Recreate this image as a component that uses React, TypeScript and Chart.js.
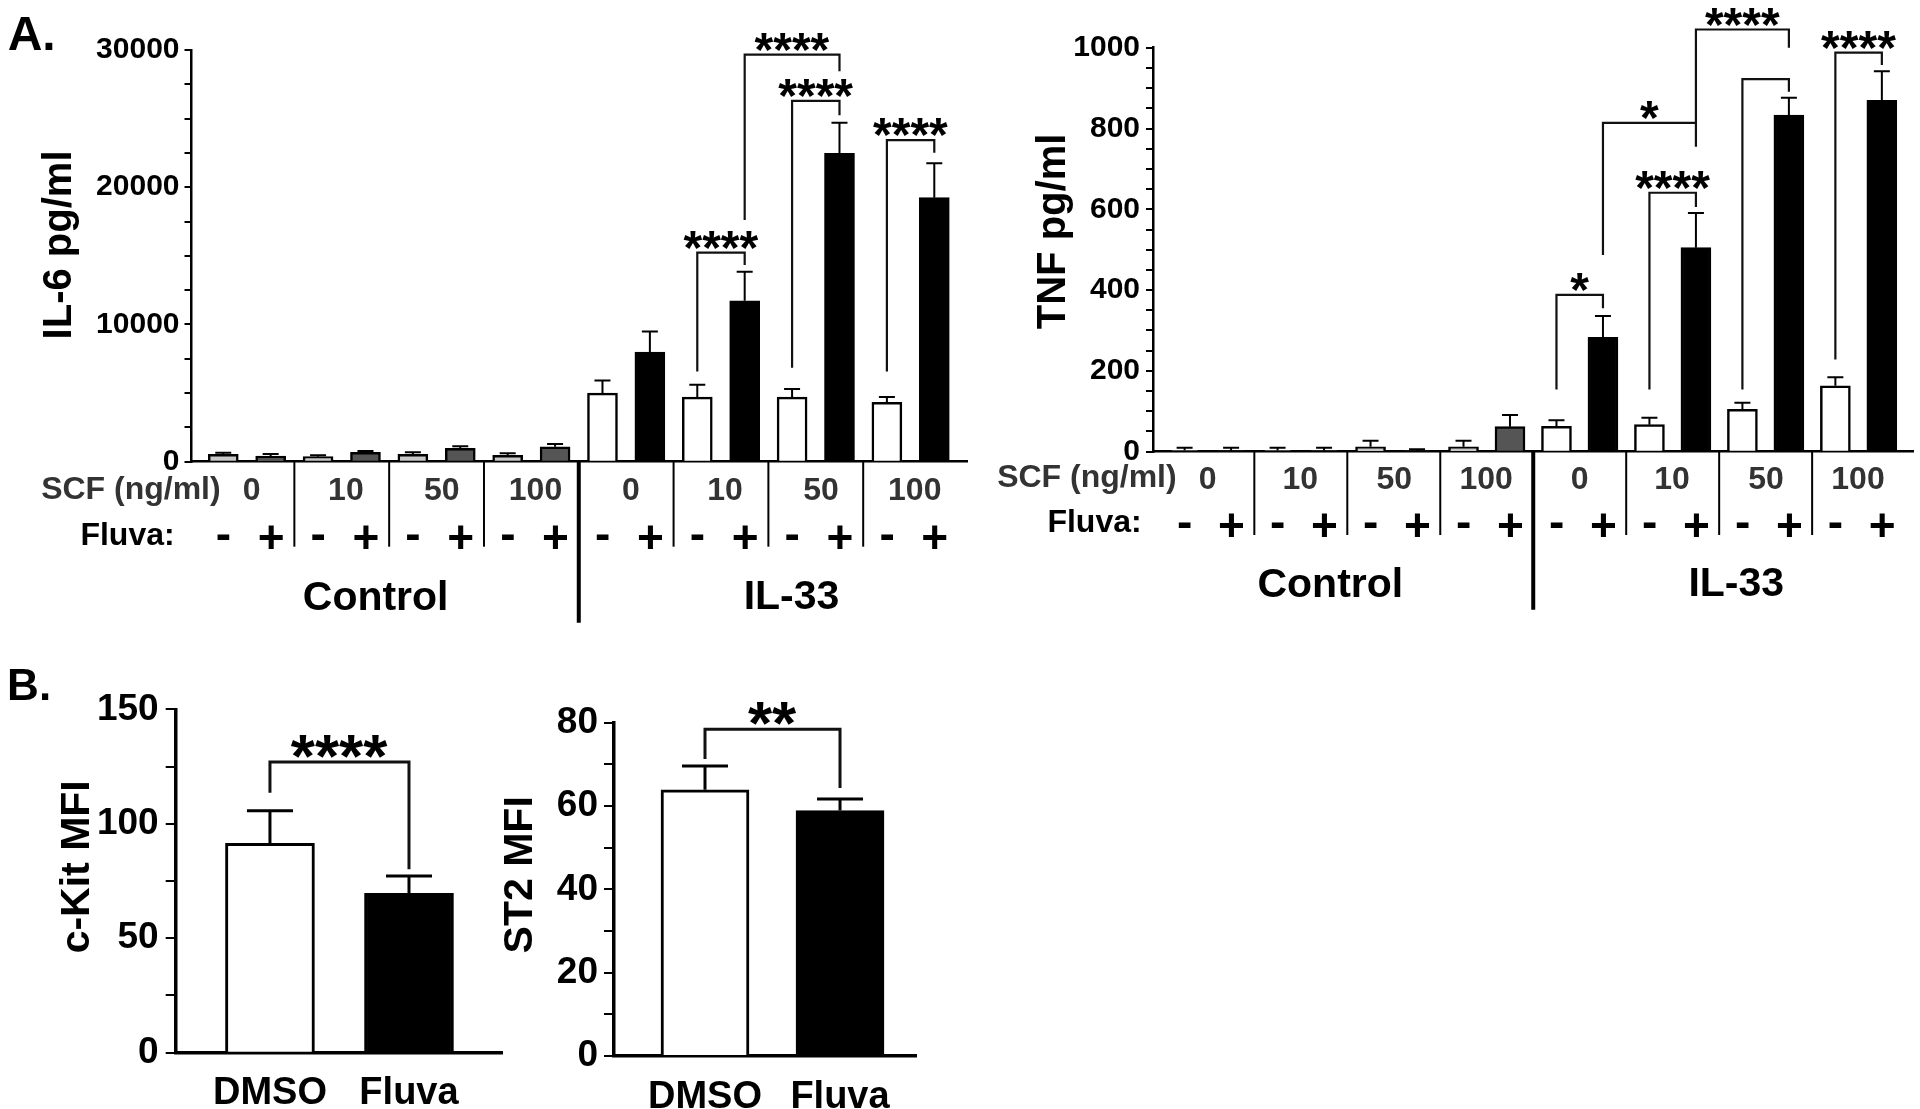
import React, { useEffect, useRef } from 'react';
import { Chart, registerables } from 'chart.js';

Chart.register(...registerables);

const FAMILY = "'Liberation Sans', Arial, Helvetica, sans-serif";
const bold = (px: number) => `bold ${px}px ${FAMILY}`;

// ---------------- data ----------------
const SCF_DOSES = ['0', '10', '50', '100'];
const FLUVA_SIGNS = ['-', '+'];
const TREATMENTS = ['Control', 'IL-33'];

// bar order: treatment (Control, IL-33) -> SCF dose (0,10,50,100) -> Fluva (-, +)
const IL6_MEAN = [540, 415, 365, 680, 540, 975, 465, 1090, 5000, 7980, 4710, 11720, 4710, 22470, 4320, 19240];
const IL6_SEM = [110, 145, 100, 100, 140, 145, 145, 200, 920, 1500, 890, 2130, 580, 2230, 390, 2500];
const IL6_TICKS = [0, 10000, 20000, 30000];

const TNF_MEAN = [3, 2, 3, 3, 12, 2, 12, 62, 63, 283, 67, 505, 105, 833, 163, 870];
const TNF_SEM = [7, 8, 7, 7, 15, 4, 15, 29, 15, 53, 17, 86, 16, 43, 21, 72];
const TNF_TICKS = [0, 200, 400, 600, 800, 1000];

const B_GROUPS = ['DMSO', 'Fluva'];
const CKIT_MEAN = [91.4, 69.6];
const CKIT_SEM = [14.3, 7.6];
const CKIT_TICKS = [0, 50, 100, 150];
const ST2_MEAN = [63.9, 58.9];
const ST2_SEM = [5.7, 2.8];
const ST2_TICKS = [0, 20, 40, 60, 80];

type Bracket = { a: number; b: number; y: number; ya: number; yb: number; label: string };
const IL6_BRACKETS: Bracket[] = [
  { a: 10, b: 11, y: 15230, ya: 6570, yb: 14340, label: '****' },
  { a: 12, b: 13, y: 26300, ya: 6840, yb: 25250, label: '****' },
  { a: 11, b: 13, y: 29670, ya: 17610, yb: 28460, label: '****' },
  { a: 14, b: 15, y: 23430, ya: 6570, yb: 22510, label: '****' },
];
const TNF_BRACKETS: Bracket[] = [
  { a: 8, b: 9, y: 388, ya: 154, yb: 355, label: '*' },
  { a: 10, b: 11, y: 641, ya: 154, yb: 606, label: '****' },
  { a: 9, b: 11, y: 814, ya: 487, yb: 755, label: '*' },
  { a: 11, b: 13, y: 1045, ya: 814, yb: 1000, label: '****' },
  { a: 12, b: 13, y: 922, ya: 154, yb: 891, label: '' },
  { a: 14, b: 15, y: 988, ya: 228, yb: 957, label: '****' },
];
const CKIT_BRACKETS: Bracket[] = [{ a: 0, b: 1, y: 127, ya: 113.5, yb: 80.1, label: '****' }];
const ST2_BRACKETS: Bracket[] = [{ a: 0, b: 1, y: 78.4, ya: 71.3, yb: 64.3, label: '**' }];

const CONTROL_FILL = ['#c8c8c8', '#555555'];
const IL33_FILL = ['#ffffff', '#000000'];
const B_FILL = ['#ffffff', '#000000'];
const aFills = (n: number) =>
  Array.from({ length: n }, (_, i) => (Math.floor(i / 8) === 0 ? CONTROL_FILL : IL33_FILL)[i % 2]);

// ---------------- drawing helpers ----------------
function inkText(
  ctx: CanvasRenderingContext2D,
  text: string,
  x: number,
  y: number,
  font: string,
  color: string,
  align: 'center' | 'right' = 'center',
  rot = 0
) {
  ctx.save();
  ctx.font = font;
  ctx.fillStyle = color;
  ctx.textAlign = 'left';
  ctx.textBaseline = 'alphabetic';
  const m = ctx.measureText(text);
  const l = m.actualBoundingBoxLeft;
  const r = m.actualBoundingBoxRight;
  const a = m.actualBoundingBoxAscent;
  const d = m.actualBoundingBoxDescent;
  const w = l + r;
  const h = a + d;
  ctx.translate(x, y);
  ctx.rotate(rot);
  const fx = align === 'right' ? -r : -w / 2 + l;
  ctx.fillText(text, fx, h / 2 - d);
  ctx.restore();
}

interface PanelSpec {
  left: number;
  top: number;
  width: number;
  height: number;
  area: { l: number; r: number; t: number; b: number };
  xMin: number;
  xMax: number;
  yMax: number;
  yStep: number;
  yLabels: number[];
  means: number[];
  sems: number[];
  fills: string[];
  barThickness: number;
  barBorder: number;
  axisWidth: number;
  tickLen: number;
  tickPad: number;
  tickFont: number;
  errWidth: number;
  capWidth: number;
  brackets: Bracket[];
  bracketWidth: number;
  starFont: number;
  starDy: number;
  title: string;
  titleFont: number;
  titleX: number;
  titleY: number;
  letter?: { text: string; x: number; y: number; font: number };
  xLabels?: string[];
  xLabelFont?: number;
  xLabelPad?: number;
  decorate?: (chart: any, ctx: CanvasRenderingContext2D) => void;
}

interface AOpts {
  scfRight: number;
  scfDy: number;
  doseDy: number;
  doseDx: number;
  signDy: number;
  fluvaRight: number;
  fluvaDy: number;
  groupDy: number;
  groupX: number[];
  thinLen: number;
  thickLen: number;
}

function decorateA(o: AOpts) {
  return (chart: any, ctx: CanvasRenderingContext2D) => {
    const x = chart.scales.x;
    const b = chart.chartArea.bottom;
    ctx.save();
    ctx.strokeStyle = '#000';
    ctx.lineCap = 'butt';
    for (let k = 1; k < 8; k++) {
      const xp = x.getPixelForValue(2 * k - 0.5);
      const thick = k === 4;
      ctx.lineWidth = thick ? 4 : 2;
      ctx.beginPath();
      ctx.moveTo(xp, b);
      ctx.lineTo(xp, b + (thick ? o.thickLen : o.thinLen));
      ctx.stroke();
    }
    ctx.restore();
    inkText(ctx, 'SCF (ng/ml)', o.scfRight, b + o.scfDy, bold(32), '#333', 'right');
    inkText(ctx, 'Fluva:', o.fluvaRight, b + o.fluvaDy, bold(32), '#000', 'right');
    TREATMENTS.forEach((t, ti) => {
      SCF_DOSES.forEach((d, di) => {
        const cx = x.getPixelForValue(ti * 8 + di * 2 + 0.5 + o.doseDx);
        inkText(ctx, d, cx, b + o.doseDy, bold(32), '#333');
        FLUVA_SIGNS.forEach((sg, si) => {
          inkText(ctx, sg, x.getPixelForValue(ti * 8 + di * 2 + si), b + o.signDy, bold(46), '#000');
        });
      });
      inkText(ctx, t, x.getPixelForValue(o.groupX[ti]), b + o.groupDy, bold(41), '#000');
    });
  };
}

function Panel({ spec }: { spec: PanelSpec }) {
  const ref = useRef<HTMLCanvasElement>(null);
  useEffect(() => {
    const s = spec;
    const canvas = ref.current as HTMLCanvasElement;
    const overlay = {
      id: 'overlay',
      afterDatasetsDraw(chart: any) {
        const ctx: CanvasRenderingContext2D = chart.ctx;
        const x = chart.scales.x;
        const y = chart.scales.y;
        // error bars (upper only)
        ctx.save();
        ctx.strokeStyle = '#000';
        ctx.lineWidth = s.errWidth;
        ctx.lineCap = 'butt';
        s.means.forEach((v, i) => {
          const xp = x.getPixelForValue(i);
          const yTop = y.getPixelForValue(v);
          const yErr = y.getPixelForValue(v + s.sems[i]);
          ctx.beginPath();
          ctx.moveTo(xp, yTop);
          ctx.lineTo(xp, yErr);
          ctx.moveTo(xp - s.capWidth / 2, yErr);
          ctx.lineTo(xp + s.capWidth / 2, yErr);
          ctx.stroke();
        });
        // significance brackets
        ctx.strokeStyle = '#111';
        ctx.lineWidth = s.bracketWidth;
        ctx.lineJoin = 'miter';
        s.brackets.forEach((br) => {
          const xa = x.getPixelForValue(br.a);
          const xb = x.getPixelForValue(br.b);
          const yy = y.getPixelForValue(br.y);
          ctx.beginPath();
          ctx.moveTo(xa, y.getPixelForValue(br.ya));
          ctx.lineTo(xa, yy);
          ctx.lineTo(xb, yy);
          ctx.lineTo(xb, y.getPixelForValue(br.yb));
          ctx.stroke();
          if (br.label) inkText(ctx, br.label, (xa + xb) / 2, yy + s.starDy, bold(s.starFont), '#000');
        });
        ctx.restore();
      },
      afterDraw(chart: any) {
        const ctx: CanvasRenderingContext2D = chart.ctx;
        inkText(ctx, s.title, s.titleX, s.titleY, bold(s.titleFont), '#000', 'center', -Math.PI / 2);
        if (s.letter) inkText(ctx, s.letter.text, s.letter.x, s.letter.y, bold(s.letter.font), '#000');
        if (s.decorate) s.decorate(chart, ctx);
      },
    };

    const xScale: any = {
      type: 'linear',
      min: s.xMin,
      max: s.xMax,
      offset: false,
      grid: { display: false },
      border: { display: true, width: s.axisWidth, color: '#000' },
      ticks: s.xLabels
        ? {
            display: true,
            autoSkip: false,
            maxRotation: 0,
            padding: s.xLabelPad,
            color: '#000',
            font: { family: FAMILY, size: s.xLabelFont, weight: 'bold', lineHeight: 1 },
            callback: (v: number) => (s.xLabels as string[])[Math.round(v)] ?? '',
          }
        : { display: false },
      afterFit: (sc: any) => {
        sc.height = s.height - s.area.b;
      },
    };
    if (s.xLabels) {
      xScale.afterBuildTicks = (sc: any) => {
        sc.ticks = (s.xLabels as string[]).map((_, i) => ({ value: i }));
      };
    }

    const chart = new Chart(canvas, {
      type: 'bar',
      data: {
        datasets: [
          {
            data: s.means.map((v, i) => ({ x: i, y: v })) as any,
            backgroundColor: s.fills,
            borderColor: '#000',
            borderWidth: s.barBorder,
            barThickness: s.barThickness,
          },
        ],
      },
      options: {
        responsive: false,
        maintainAspectRatio: false,
        animation: false,
        devicePixelRatio: 1,
        layout: { padding: { left: 0, top: s.area.t, right: s.width - s.area.r, bottom: 0 } },
        plugins: { legend: { display: false }, tooltip: { enabled: false } },
        scales: {
          x: xScale,
          y: {
            type: 'linear',
            min: 0,
            max: s.yMax,
            grid: {
              display: true,
              drawOnChartArea: false,
              drawTicks: true,
              tickLength: s.tickLen,
              lineWidth: 2,
              tickWidth: 2,
              color: '#000',
              tickColor: '#000',
            },
            border: { display: true, width: s.axisWidth, color: '#000' },
            ticks: {
              stepSize: s.yStep,
              autoSkip: false,
              padding: s.tickPad,
              color: '#000',
              font: { family: FAMILY, size: s.tickFont, weight: 'bold' },
              callback: (v: any) =>
                s.yLabels.some((L) => Math.abs(L - Number(v)) < 1e-6) ? String(v) : '',
            },
            afterFit: (sc: any) => {
              sc.width = s.area.l;
            },
          } as any,
        },
      },
      plugins: [overlay as any],
    });
    return () => chart.destroy();
  }, [spec]);
  return (
    <canvas
      ref={ref}
      width={spec.width}
      height={spec.height}
      style={{ position: 'absolute', left: spec.left, top: spec.top, width: spec.width, height: spec.height }}
    />
  );
}

// ---------------- panel specs ----------------
const IL6_SPEC: PanelSpec = {
  left: 0,
  top: 0,
  width: 980,
  height: 640,
  area: { l: 191.5, r: 967, t: 50, b: 461.7 },
  xMin: -0.67,
  xMax: 15.69,
  yMax: 30000,
  yStep: 2500,
  yLabels: IL6_TICKS,
  means: IL6_MEAN,
  sems: IL6_SEM,
  fills: aFills(IL6_MEAN.length),
  barThickness: 30,
  barBorder: 2.5,
  axisWidth: 2.5,
  tickLen: 7,
  tickPad: 5,
  tickFont: 30,
  errWidth: 2,
  capWidth: 16,
  brackets: IL6_BRACKETS,
  bracketWidth: 2.2,
  starFont: 48,
  starDy: -13,
  title: 'IL-6 pg/ml',
  titleFont: 40,
  titleX: 60,
  titleY: 245,
  letter: { text: 'A.', x: 31, y: 33.5, font: 48 },
  decorate: decorateA({
    scfRight: 220,
    scfDy: 29.3,
    doseDy: 27.3,
    doseDx: 0.1,
    signDy: 75.3,
    fluvaRight: 172,
    fluvaDy: 71.8,
    groupDy: 133,
    groupX: [3.2, 12.0],
    thinLen: 85,
    thickLen: 161,
  }),
};

const TNF_SPEC: PanelSpec = {
  left: 980,
  top: 0,
  width: 940,
  height: 640,
  area: { l: 173, r: 933, t: 47.7, b: 451.7 },
  xMin: -0.68,
  xMax: 15.67,
  yMax: 1000,
  yStep: 50,
  yLabels: TNF_TICKS,
  means: TNF_MEAN,
  sems: TNF_SEM,
  fills: aFills(TNF_MEAN.length),
  barThickness: 30,
  barBorder: 2.5,
  axisWidth: 2.5,
  tickLen: 7,
  tickPad: 6,
  tickFont: 30,
  errWidth: 2,
  capWidth: 16,
  brackets: TNF_BRACKETS,
  bracketWidth: 2.2,
  starFont: 48,
  starDy: -13,
  title: 'TNF pg/ml',
  titleFont: 40,
  titleX: 74,
  titleY: 232.5,
  decorate: decorateA({
    scfRight: 196,
    scfDy: 27.3,
    doseDy: 26.3,
    doseDx: 0,
    signDy: 73.3,
    fluvaRight: 159,
    fluvaDy: 68.3,
    groupDy: 130.3,
    groupX: [3.12, 11.88],
    thinLen: 83.3,
    thickLen: 158,
  }),
};

const CKIT_SPEC: PanelSpec = {
  left: 0,
  top: 660,
  width: 520,
  height: 449,
  area: { l: 175.7, r: 502, t: 49.3, b: 392.7 },
  xMin: -0.678,
  xMax: 1.669,
  yMax: 150,
  yStep: 25,
  yLabels: CKIT_TICKS,
  means: CKIT_MEAN,
  sems: CKIT_SEM,
  fills: B_FILL,
  barThickness: 89,
  barBorder: 3,
  axisWidth: 3.5,
  tickLen: 10,
  tickPad: 7,
  tickFont: 37,
  errWidth: 3,
  capWidth: 46,
  brackets: CKIT_BRACKETS,
  bracketWidth: 3,
  starFont: 62,
  starDy: -15,
  title: 'c-Kit MFI',
  titleFont: 41,
  titleX: 74,
  titleY: 867.5 - 660,
  letter: { text: 'B.', x: 29, y: 24, font: 44 },
  xLabels: B_GROUPS,
  xLabelFont: 38,
  xLabelPad: 14,
};

const ST2_SPEC: PanelSpec = {
  left: 440,
  top: 660,
  width: 500,
  height: 449,
  area: { l: 174, r: 476.7, t: 62.7, b: 396 },
  xMin: -0.674,
  xMax: 1.568,
  yMax: 80,
  yStep: 10,
  yLabels: ST2_TICKS,
  means: ST2_MEAN,
  sems: ST2_SEM,
  fills: B_FILL,
  barThickness: 88,
  barBorder: 3,
  axisWidth: 3.5,
  tickLen: 10,
  tickPad: 6,
  tickFont: 37,
  errWidth: 3,
  capWidth: 46,
  brackets: ST2_BRACKETS,
  bracketWidth: 3,
  starFont: 62,
  starDy: -16,
  title: 'ST2 MFI',
  titleFont: 41,
  titleX: 78,
  titleY: 875.5 - 660,
  xLabels: B_GROUPS,
  xLabelFont: 38,
  xLabelPad: 15,
};

export default function App() {
  return (
    <div
      style={{
        position: 'absolute',
        left: 0,
        top: 0,
        width: 1920,
        height: 1109,
        background: '#ffffff',
        overflow: 'hidden',
      }}
    >
      <Panel spec={IL6_SPEC} />
      <Panel spec={TNF_SPEC} />
      <Panel spec={CKIT_SPEC} />
      <Panel spec={ST2_SPEC} />
    </div>
  );
}
